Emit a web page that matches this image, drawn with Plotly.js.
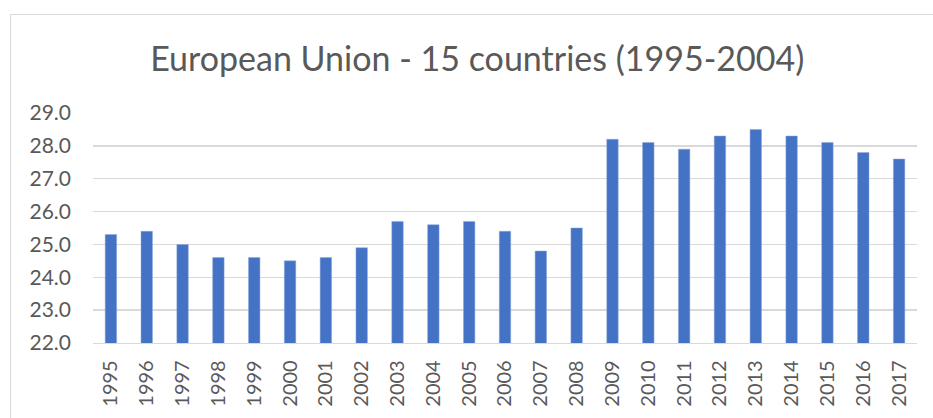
<!DOCTYPE html>
<html>
<head>
<meta charset="utf-8">
<script src="https://cdn.plot.ly/plotly-3.0.1.min.js"></script>
<style>
html,body{margin:0;padding:0;background:#fff;overflow:hidden;width:933px;height:418px;}
#wrap{position:absolute;left:10px;top:14px;border:1px solid #d9d9d9;width:940px;height:420px;}
#chart{width:940px;height:420px;}
</style>
</head>
<body>
<div id="wrap"><div id="chart"></div></div>
<script>
var years = ["1995","1996","1997","1998","1999","2000","2001","2002","2003","2004","2005","2006","2007","2008","2009","2010","2011","2012","2013","2014","2015","2016","2017"];
var values = [25.3,25.4,25.0,24.6,24.6,24.5,24.6,24.9,25.7,25.6,25.7,25.4,24.8,25.5,28.2,28.1,27.9,28.3,28.5,28.3,28.1,27.8,27.6];
var titleText = "European Union - 15 countries (1995-2004)";

var trace = {
  type: "bar",
  x: years,
  y: values,
  marker: {color: "#4472C4", line: {color: "#8faadc", width: 0.5}},
  hoverinfo: "x+y"
};

var layout = {
  width: 940,
  height: 420,
  margin: {l: 82, r: 34, t: 98, b: 92, pad: 0},
  paper_bgcolor: "#ffffff",
  plot_bgcolor: "#ffffff",
  font: {family: "Lato, 'Open Sans', sans-serif", color: "#595959", size: 21},
  title: {
    text: titleText,
    font: {family: "Lato, 'Open Sans', sans-serif", size: 34, color: "#595959"},
    x: 0.496, xref: "container", xanchor: "center",
    y: 1 - 44/420, yref: "container", yanchor: "middle"
  },
  bargap: 0.68,
  showlegend: false,
  xaxis: {
    type: "category",
    tickangle: -90,
    showgrid: false,
    showline: true,
    linecolor: "#d9d9d9",
    linewidth: 1.3,
    ticks: "",
    ticklabelstandoff: 8,
    tickfont: {size: 20, color: "#595959"}
  },
  yaxis: {
    range: [22, 29],
    dtick: 1,
    tick0: 22,
    tickformat: ".1f",
    showgrid: true,
    gridcolor: "#d9d9d9",
    gridwidth: 1.3,
    zeroline: false,
    showline: false,
    ticks: "",
    ticklabelstandoff: 21,
    tickfont: {size: 21, color: "#595959"}
  }
};

Plotly.newPlot("chart", [trace], layout, {displayModeBar: false, staticPlot: true});
</script>
</body>
</html>
